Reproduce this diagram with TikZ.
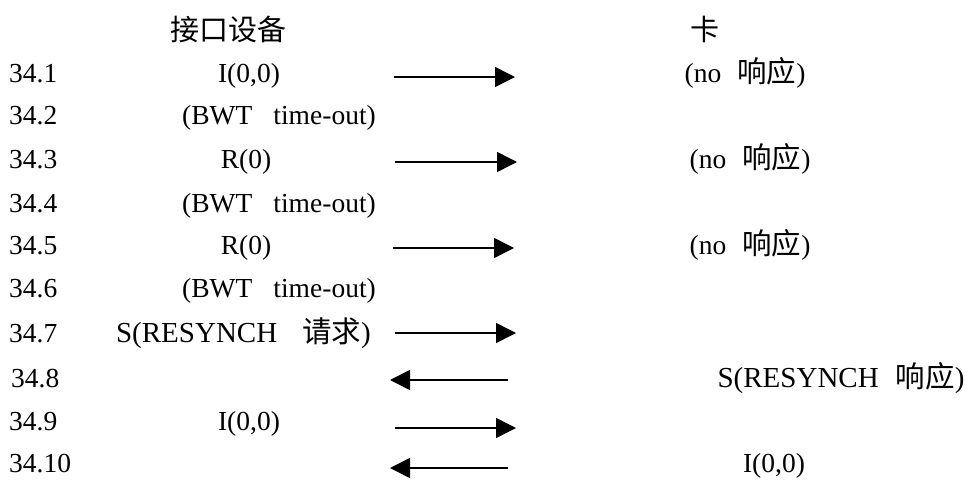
\documentclass[tikz,border=0pt]{standalone}
\usepackage{fontspec}
\setmainfont{Liberation Serif}
\newfontfamily\cjk{Noto Sans CJK SC}
\usetikzlibrary{arrows.meta}
\tikzset{
  txt/.style={inner sep=0pt, anchor=base, font=\fontsize{27.5}{30}\selectfont},
  txtL/.style={inner sep=0pt, anchor=base, font=\fontsize{29}{31}\selectfont},
  num/.style={inner sep=0pt, anchor=base west, font=\fontsize{27.5}{30}\selectfont},
  hdr/.style={inner sep=0pt, anchor=base, font=\fontsize{29}{31}\selectfont\cjk},
  arr/.style={line width=1.5pt, -{Triangle[length=20pt,width=20pt]}}
}
\newcommand{\zh}[1]{{\fontsize{29.5}{31}\selectfont\cjk #1}}
\begin{document}
\begin{tikzpicture}[x=1pt,y=-1pt]
\useasboundingbox (0,0) rectangle (971,479);
% headers
\node[hdr] (h1) at (228,40) {接口设备};
\node[hdr] (h2) at (705,40) {卡};
% numbers
\node[num] (n1) at (9,82) {34.1};
\node[num] (n2) at (9,124) {34.2};
\node[num] (n3) at (9,168) {34.3};
\node[num] (n4) at (9,212) {34.4};
\node[num] (n5) at (9,254) {34.5};
\node[num] (n6) at (9,297) {34.6};
\node[num] (n7) at (9,342) {34.7};
\node[num] (n8) at (11,387) {34.8};
\node[num] (n9) at (9,430) {34.9};
\node[num] (n10) at (9,472) {34.10};
% left column
\node[txt] (l1) at (249,82) {I(0,0)};
\node[txt] (l2) at (279,124) {(BWT\hspace{21pt}time-out)};
\node[txt] (l3) at (246,168) {R(0)};
\node[txt] (l4) at (279,212) {(BWT\hspace{21pt}time-out)};
\node[txt] (l5) at (246,254) {R(0)};
\node[txt] (l6) at (279,297) {(BWT\hspace{21pt}time-out)};
\node[txtL] (l7) at (243.5,342) {S(RESYNCH\hspace{25pt}\zh{请求})};
\node[txt] (l9) at (249,430) {I(0,0)};
% right column
\node[txt] (r1) at (745,82) {(no\hspace{16pt}\zh{响应})};
\node[txt] (r3) at (750,168) {(no\hspace{16pt}\zh{响应})};
\node[txt] (r5) at (750,254) {(no\hspace{16pt}\zh{响应})};
\node[txtL] (r8) at (841,387) {S(RESYNCH\hspace{17pt}\zh{响应})};
\node[txt] (r10) at (774,472) {I(0,0)};
% arrows
\coordinate (a1s) at (394,77);  \coordinate (a1e) at (515,77);
\coordinate (a3s) at (395,162); \coordinate (a3e) at (517,162);
\coordinate (a5s) at (393,248); \coordinate (a5e) at (514,248);
\coordinate (a7s) at (395,333); \coordinate (a7e) at (516,333);
\coordinate (a8s) at (508,380); \coordinate (a8e) at (390,380);
\coordinate (a9s) at (395,428); \coordinate (a9e) at (516,428);
\coordinate (a10s) at (508,468); \coordinate (a10e) at (390,468);
\draw[arr] (a1s) -- (a1e);
\draw[arr] (a3s) -- (a3e);
\draw[arr] (a5s) -- (a5e);
\draw[arr] (a7s) -- (a7e);
\draw[arr] (a8s) -- (a8e);
\draw[arr] (a9s) -- (a9e);
\draw[arr] (a10s) -- (a10e);
\end{tikzpicture}
\end{document}
